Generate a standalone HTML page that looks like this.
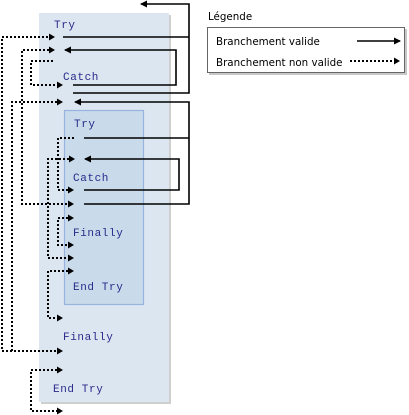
<!DOCTYPE html>
<html><head><meta charset="utf-8"><style>
html,body{margin:0;padding:0;background:#fff;width:409px;height:415px;overflow:hidden}
svg{display:block}
.code{font-family:"Liberation Mono",monospace;font-size:11px;fill:#2a2a8a;letter-spacing:0.6px}
.lg{font-family:"DejaVu Sans","Liberation Sans",sans-serif;font-size:10.3px;fill:#000}
.s{stroke:#000;stroke-width:1.6;fill:none}
.d{stroke:#000;stroke-width:2;fill:none;stroke-dasharray:2 2}
</style></head><body>
<svg width="409" height="415" viewBox="0 0 409 415">
<defs>
<marker id="a" markerWidth="7" markerHeight="7" refX="6" refY="3.5" orient="auto" markerUnits="userSpaceOnUse">
<path d="M0,0 L7,3.5 L0,7 z" fill="#000"/></marker>
</defs>
<rect x="41" y="15" width="130" height="389" fill="#cfcfcf"/>
<rect x="39" y="13" width="130" height="389" fill="#dce6f1"/>
<rect x="64.5" y="110.5" width="79" height="194" fill="#c9daeb" stroke="#98b4de" stroke-width="1.2"/>
<text class="code" x="54" y="28">Try</text>
<text class="code" x="63" y="80">Catch</text>
<text class="code" x="74" y="127">Try</text>
<text class="code" x="73" y="181">Catch</text>
<text class="code" x="73" y="236">Finally</text>
<text class="code" x="73" y="290">End Try</text>
<text class="code" x="63" y="340">Finally</text>
<text class="code" x="53" y="392">End Try</text>
<polyline class="s" points="73,93 189,93 189,4 141,4" marker-end="url(#a)"/>
<polyline class="s" points="63,37 189,37"/>
<polyline class="s" points="73,85 176,85 176,50 65,50" marker-end="url(#a)"/>
<polyline class="s" points="84,204 189,204 189,102 75,102" marker-end="url(#a)"/>
<polyline class="s" points="84,138 189,138"/>
<polyline class="s" points="84,190 179,190 179,159 85,159" marker-end="url(#a)"/>
<polyline class="d" points="48,37 2,37 2,351 57,351"/><path d="M57,347.5 L63,351 L57,354.5z"/>
<path d="M49,33.5 L55,37 L49,40.5z"/>
<polyline class="d" points="49,50 22,50 22,204 68,204"/><path d="M49,46.5 L55,50 L49,53.5z"/><path d="M68,200.5 L74,204 L68,207.5z"/>
<polyline class="d" points="53,61 31,61 31,85 57,85"/><path d="M57,81.5 L63,85 L57,88.5z"/>
<polyline class="d" points="57,102 12,102 12,351"/><path d="M57,98.5 L63,102 L57,105.5z"/>
<polyline class="d" points="74,138 58,138 58,190 68,190"/><path d="M68,186.5 L74,190 L68,193.5z"/>
<polyline class="d" points="69,159 48,159 48,258 68,258"/><path d="M69,155.5 L75,159 L69,162.5z"/><path d="M68,254.5 L74,258 L68,261.5z"/>
<polyline class="d" points="68,218 58,218 58,245 68,245"/><path d="M68,214.5 L74,218 L68,221.5z"/><path d="M68,241.5 L74,245 L68,248.5z"/>
<polyline class="d" points="68,271 48,271 48,318 57,318"/><path d="M68,267.5 L74,271 L68,274.5z"/><path d="M57,314.5 L63,318 L57,321.5z"/>
<polyline class="d" points="57,370 31,370 31,411 57,411"/><path d="M57,366.5 L63,370 L57,373.5z"/><path d="M57,407.5 L63,411 L57,414.5z"/>
<text class="lg" x="208" y="20">Légende</text>
<rect x="209" y="29" width="198" height="46" fill="#c8c8c8"/>
<rect x="207.5" y="27.5" width="197" height="45" fill="#fff" stroke="#666" stroke-width="1"/>
<text class="lg" x="216" y="45">Branchement valide</text>
<text class="lg" x="216" y="66">Branchement non valide</text>
<polyline class="s" points="357,41 400,41" marker-end="url(#a)"/>
<polyline class="d" points="350,61 394,61"/><path d="M394,57.5 L400,61 L394,64.5z"/>
</svg>
</body></html>
